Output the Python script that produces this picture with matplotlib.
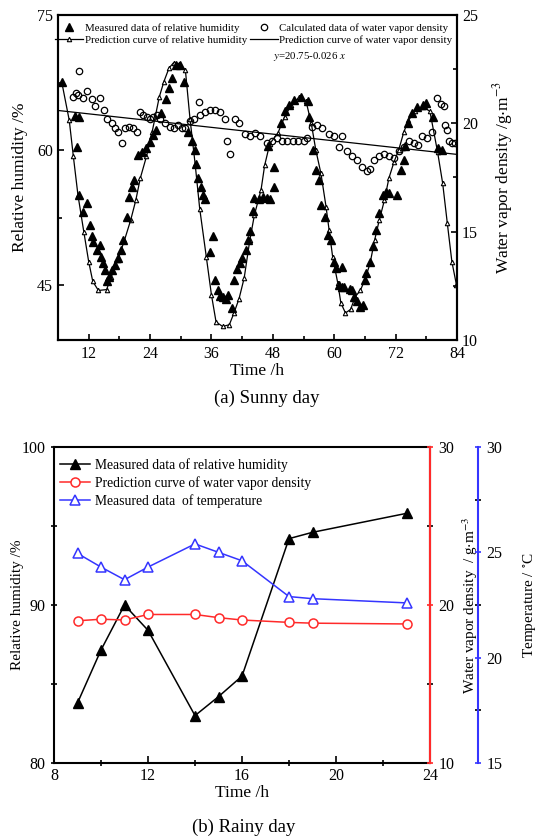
import matplotlib
matplotlib.use('Agg')
import matplotlib.pyplot as plt
from matplotlib.lines import Line2D
from matplotlib.ticker import MultipleLocator

plt.rcParams['font.family'] = ['Liberation Serif', 'DejaVu Serif']
plt.rcParams['mathtext.fontset'] = 'stix'

# (a) sunny day - prediction curve of relative humidity
pred_t = [6.75, 8.2, 9.0, 9.9, 11.05, 12.0, 12.8, 13.9, 15.5, 16.4,
          17.7, 19.0, 20.2, 21.2, 22.1, 23.3, 24.4, 25.8, 26.7, 27.7,
          28.6, 29.6, 30.9, 31.8, 32.8, 33.7, 35.0, 36.0, 36.9, 38.2,
          39.5, 40.4, 41.4, 42.4, 43.5, 44.4, 45.7, 46.4, 47.4, 49.0,
          50.3, 51.6, 53.2, 54.5, 55.5, 56.4, 57.4, 58.4, 59.0, 59.7,
          60.7, 61.3, 62.2, 63.2, 64.1, 65.1, 66.0, 67.0, 67.9, 68.8,
          69.8, 70.7, 71.7, 72.6, 73.6, 74.5, 75.8, 77.4, 78.7, 80.2,
          81.2, 82.1, 83.0, 83.9]
pred_rh = [67.5, 63.3, 59.3, 55.0, 50.9, 47.6, 45.4, 44.4, 44.5, 45.9,
           47.8, 50.0, 52.2, 54.4, 56.9, 59.3, 62.0, 65.9, 67.6, 69.1,
           69.7, 69.6, 68.9, 63.5, 58.5, 53.5, 48.1, 43.9, 40.9, 40.4,
           40.6, 41.9, 43.5, 45.8, 50.0, 52.8, 55.6, 58.3, 60.7, 61.9,
           63.7, 65.0, 65.9, 65.4, 63.0, 60.0, 57.4, 53.7, 51.1, 48.1,
           45.2, 43.0, 41.9, 42.3, 43.7, 44.4, 45.6, 47.4, 50.0, 52.2,
           54.4, 56.9, 58.7, 60.0, 62.0, 63.3, 64.3, 64.8, 64.3, 59.8,
           56.3, 51.9, 47.6, 45.0]

# measured relative humidity
meas_t = [6.75, 9.3, 10.1, 9.7, 10.1, 10.9, 11.7, 12.2, 12.6, 12.9,
          13.6, 14.2, 14.4, 14.7, 15.2, 15.6, 15.9, 16.6, 17.1, 17.7,
          18.3, 18.8, 19.4, 19.9, 20.5, 20.9, 21.7, 22.4, 23.3, 24.0,
          24.5, 25.1, 26.1, 27.1, 27.7, 28.3, 29.0, 29.9, 30.7, 31.5,
          32.2, 32.7, 32.9, 33.4, 33.9, 34.3, 34.8, 35.7, 36.3, 36.6,
          37.2, 37.6, 38.2, 38.8, 39.3, 40.1, 40.4, 41.0, 41.5, 42.0,
          42.7, 43.1, 43.6, 44.1, 44.4, 45.2, 46.0, 46.8, 47.4, 48.2,
          48.3, 47.0, 49.6, 50.3, 51.2, 52.2, 53.5, 54.8, 55.1, 55.8,
          56.4, 57.1, 57.4, 58.1, 58.8, 59.4, 60.0, 60.3, 61.0, 61.6,
          61.6, 61.9, 63.0, 63.5, 63.8, 64.4, 65.1, 65.7, 66.0, 66.3,
          66.9, 67.6, 68.2, 68.8, 69.5, 70.1, 70.7, 72.3, 73.0, 73.6,
          73.9, 74.5, 75.2, 76.1, 77.4, 78.0, 79.3, 80.2, 81.1]
meas_rh = [67.6, 63.8, 63.7, 60.3, 55.0, 53.1, 54.1, 51.7, 50.4, 49.8,
           48.9, 49.4, 48.1, 47.4, 46.7, 45.4, 45.9, 46.7, 47.2, 48.0,
           48.9, 50.0, 52.6, 54.8, 55.9, 56.7, 59.4, 59.8, 60.2, 60.9,
           61.7, 62.2, 64.1, 65.7, 66.9, 68.0, 69.4, 69.4, 67.6, 62.0,
           61.0, 60.0, 58.5, 56.9, 55.9, 55.0, 54.6, 48.7, 50.4, 45.6,
           44.4, 43.8, 43.7, 43.5, 43.9, 42.4, 45.6, 46.8, 47.5, 48.0,
           48.9, 50.0, 51.0, 53.2, 54.7, 54.6, 54.8, 54.7, 54.6, 55.9,
           58.1, 60.4, 63.0, 64.3, 65.0, 65.6, 65.9, 65.4, 63.7, 60.0,
           57.8, 56.7, 53.9, 52.6, 50.6, 50.0, 47.6, 46.9, 45.0, 44.8,
           47.0, 44.8, 44.6, 44.4, 43.7, 43.2, 42.6, 42.8, 45.6, 46.3,
           47.6, 49.3, 51.1, 53.0, 55.0, 55.3, 55.2, 55.0, 57.8, 58.9,
           60.4, 63.0, 64.1, 64.8, 65.0, 65.2, 63.7, 60.2, 60.0]

# calculated water vapor density
vap_t = [9.0, 9.6, 10.0, 10.2, 10.8, 11.7, 12.6, 13.2, 14.2, 14.9,
         15.5, 16.5, 17.2, 17.8, 18.5, 19.1, 19.8, 20.7, 21.4, 22.0,
         22.7, 23.4, 24.0, 24.6, 25.3, 26.0, 26.9, 27.9, 28.6, 29.5,
         30.2, 30.9, 31.8, 32.5, 33.5, 33.8, 34.8, 35.7, 36.7, 37.7,
         38.7, 39.0, 39.7, 40.6, 41.4, 42.6, 43.6, 44.6, 45.5, 46.8,
         47.8, 48.8, 49.8, 50.8, 52.0, 53.0, 54.0, 54.7, 55.6, 56.6,
         57.6, 58.9, 59.9, 60.9, 61.6, 62.5, 63.5, 64.5, 65.4, 66.4,
         66.9, 67.7, 68.7, 69.7, 70.7, 71.7, 72.7, 73.6, 74.6, 75.6,
         76.4, 77.2, 78.2, 79.1, 80.1, 80.8, 81.4, 81.7, 82.1, 82.4,
         83.0, 83.6]
vap = [21.2, 21.4, 21.3, 22.4, 21.15, 21.5, 21.1, 20.8, 21.15, 20.6,
       20.2, 20.0, 19.8, 19.6, 19.1, 19.8, 19.85, 19.8, 19.6, 20.5,
       20.4, 20.3, 20.2, 20.3, 20.4, 20.2, 20.0, 19.85, 19.8, 19.9,
       19.8, 19.8, 20.1, 20.2, 21.0, 20.4, 20.5, 20.6, 20.6, 20.5,
       20.2, 19.2, 18.6, 20.2, 20.0, 19.5, 19.4, 19.55, 19.4, 19.1,
       19.2, 19.3, 19.2, 19.2, 19.2, 19.2, 19.2, 19.3, 19.85, 19.9,
       19.8, 19.5, 19.4, 18.9, 19.4, 18.7, 18.5, 18.3, 18.0, 17.8,
       17.9, 18.3, 18.5, 18.6, 18.5, 18.4, 18.7, 18.9, 19.2, 19.1,
       19.0, 19.4, 19.3, 19.6, 21.15, 20.9, 20.8, 19.9, 19.7, 19.2,
       19.1, 19.1]

# fitted line y = 20.75 - 0.026 x
fit_t = [6, 84]
fit_v = [20.75 - 0.026 * 6, 20.75 - 0.026 * 84]

# (b) rainy day
rain_t = [9, 10, 11, 12, 14, 15, 16, 18, 19, 23]
rain_rh = [83.8, 87.15, 90.0, 88.4, 83.0, 84.2, 85.5, 94.2, 94.6, 95.8]
rain_vap = [19.0, 19.1, 19.05, 19.4, 19.4, 19.2, 19.05, 18.9, 18.85, 18.8]
rain_temp = [24.95, 24.3, 23.7, 24.3, 25.4, 25.0, 24.6, 22.9, 22.8, 22.6]

RED = '#ff2a2a'
BLUE = '#3535ff'

fig = plt.figure(figsize=(5.37, 8.38), dpi=100)

# ---------- (a) ----------
ax = fig.add_axes([58/537, 1-340/838, 399/537, 325/838])
ax2 = ax.twinx()

ax.plot(pred_t, pred_rh, '-', color='black', lw=0.9, marker='^', ms=3.2,
        mfc='white', mec='black', mew=0.8, zorder=3)
ax.plot(meas_t, meas_rh, '^', color='black', ms=5.5, zorder=4)
ax2.plot(vap_t, vap, 'o', mfc='none', mec='black', ms=4.6, mew=0.9)
ax2.plot(fit_t, fit_v, '-', color='black', lw=0.9)

ax.set_xlim(6, 84)
ax.set_ylim(38.9, 75)
ax2.set_ylim(10, 25)
ax.xaxis.set_major_locator(MultipleLocator(12))
ax.xaxis.set_minor_locator(MultipleLocator(6))
ax.yaxis.set_major_locator(MultipleLocator(15))
ax.yaxis.set_minor_locator(MultipleLocator(7.5))
ax2.yaxis.set_major_locator(MultipleLocator(5))
ax2.yaxis.set_minor_locator(MultipleLocator(2.5))

for a in (ax, ax2):
    a.tick_params(which='both', direction='in', labelsize=11.5, width=1.2)
    a.tick_params(which='major', length=4)
    a.tick_params(which='minor', length=3)
    for s in a.spines.values():
        s.set_linewidth(1.5)
ax.tick_params(axis='x', pad=4)

ax.set_xlabel('Time /h', fontsize=12.5, labelpad=1)
ax.set_ylabel('Relative humidity /%', fontsize=12.5)
ax.yaxis.set_label_coords(-0.075, 0.5)
ax2.set_ylabel(r'Water vapor density /g$\cdot$m$^{-3}$', fontsize=12.5)
ax2.yaxis.set_label_coords(1.085, 0.5)

h1 = Line2D([], [], ls='none', marker='^', color='black', ms=5.5)
h2 = Line2D([], [], ls='-', color='black', lw=0.9, marker='^', ms=3.2,
            mfc='white', mec='black', mew=0.8)
h3 = Line2D([], [], ls='none', marker='o', mfc='none', mec='black', ms=4.6, mew=0.9)
h4 = Line2D([], [], ls='-', color='black', lw=0.9)
leg = ax.legend([h1, h2, h3, h4],
                ['Measured data of relative humidity',
                 'Prediction curve of relative humidity',
                 'Calculated data of water vapor density',
                 'Prediction curve of water vapor density'],
                ncol=2, loc='upper left', bbox_to_anchor=(-0.008, 0.975),
                frameon=False, fontsize=7.8, handlelength=2.6,
                handletextpad=0.15, columnspacing=0.25, labelspacing=0.2,
                borderpad=0, borderaxespad=0)
ax.text(0.539, 0.872, r'$y$=20.75-0.026 $x$', transform=ax.transAxes,
        fontsize=7.8, va='center', ha='left')

fig.text(0.497, 1-398/838, '(a) Sunny day', fontsize=13.5, ha='center', va='center')

# ---------- (b) ----------
bx = fig.add_axes([54/537, 1-763/838, 376/537, 316/838])
bx2 = bx.twinx()
bx3 = bx.twinx()
bx3.spines['right'].set_position(('axes', 1 + 48/376))

l1, = bx.plot(rain_t, rain_rh, '-', color='black', lw=1.1, marker='^', ms=7,
              label='Measured data of relative humidity')
l2, = bx2.plot(rain_t, rain_vap, '-', color=RED, lw=1.1, marker='o', ms=6.5,
               mfc='white', mec=RED, mew=1.1,
               label='Prediction curve of water vapor density')
l3, = bx3.plot(rain_t, rain_temp, '-', color=BLUE, lw=1.1, marker='^', ms=7,
               mfc='white', mec=BLUE, mew=1.1,
               label='Measured data  of temperature')

bx.set_xlim(8, 24)
bx.set_ylim(80, 100)
bx2.set_ylim(10, 30)
bx3.set_ylim(15, 30)
bx.xaxis.set_major_locator(MultipleLocator(4))
bx.xaxis.set_minor_locator(MultipleLocator(2))
bx.yaxis.set_major_locator(MultipleLocator(10))
bx.yaxis.set_minor_locator(MultipleLocator(5))
bx2.yaxis.set_major_locator(MultipleLocator(10))
bx2.yaxis.set_minor_locator(MultipleLocator(5))
bx3.yaxis.set_major_locator(MultipleLocator(5))
bx3.yaxis.set_minor_locator(MultipleLocator(2.5))

for a in (bx, bx2, bx3):
    a.tick_params(which='both', direction='inout', labelsize=11.5, width=1.2)
    a.tick_params(which='major', length=5)
    a.tick_params(which='minor', length=4)
    for s in a.spines.values():
        s.set_linewidth(1.5)
bx.tick_params(axis='x', direction='in')
bx2.spines['right'].set_color(RED)
bx2.tick_params(axis='y', colors=RED, labelcolor='black')
bx3.spines['right'].set_color(BLUE)
bx3.tick_params(axis='y', colors=BLUE, labelcolor='black')
for a in (bx2, bx3):
    a.spines['left'].set_visible(False)
    a.spines['top'].set_visible(False)
    a.spines['bottom'].set_visible(False)

bx.set_xlabel('Time /h', fontsize=12.5, labelpad=1)
bx.set_ylabel('Relative humidity /%', fontsize=11)
bx.yaxis.set_label_coords(-0.08, 0.5)
bx2.set_ylabel(r'Water vapor density  / g$\cdot$m$^{-3}$', fontsize=11)
bx2.yaxis.set_label_coords(1.082, 0.5)
bx3.set_ylabel(r'Temperature / $^{\circ}$C', fontsize=11)
bx3.yaxis.set_label_coords(1.242, 0.5)

bx.legend([l1, l2, l3], [l1.get_label(), l2.get_label(), l3.get_label()],
          loc='upper left', bbox_to_anchor=(0.016, 0.965), frameon=False,
          fontsize=9.8, handlelength=2.2, handletextpad=0.35,
          labelspacing=0.3, borderpad=0, borderaxespad=0)

fig.text(0.453, 1-827/838, '(b) Rainy day', fontsize=13.5, ha='center', va='center')

fig.savefig('out.png', dpi=100)
